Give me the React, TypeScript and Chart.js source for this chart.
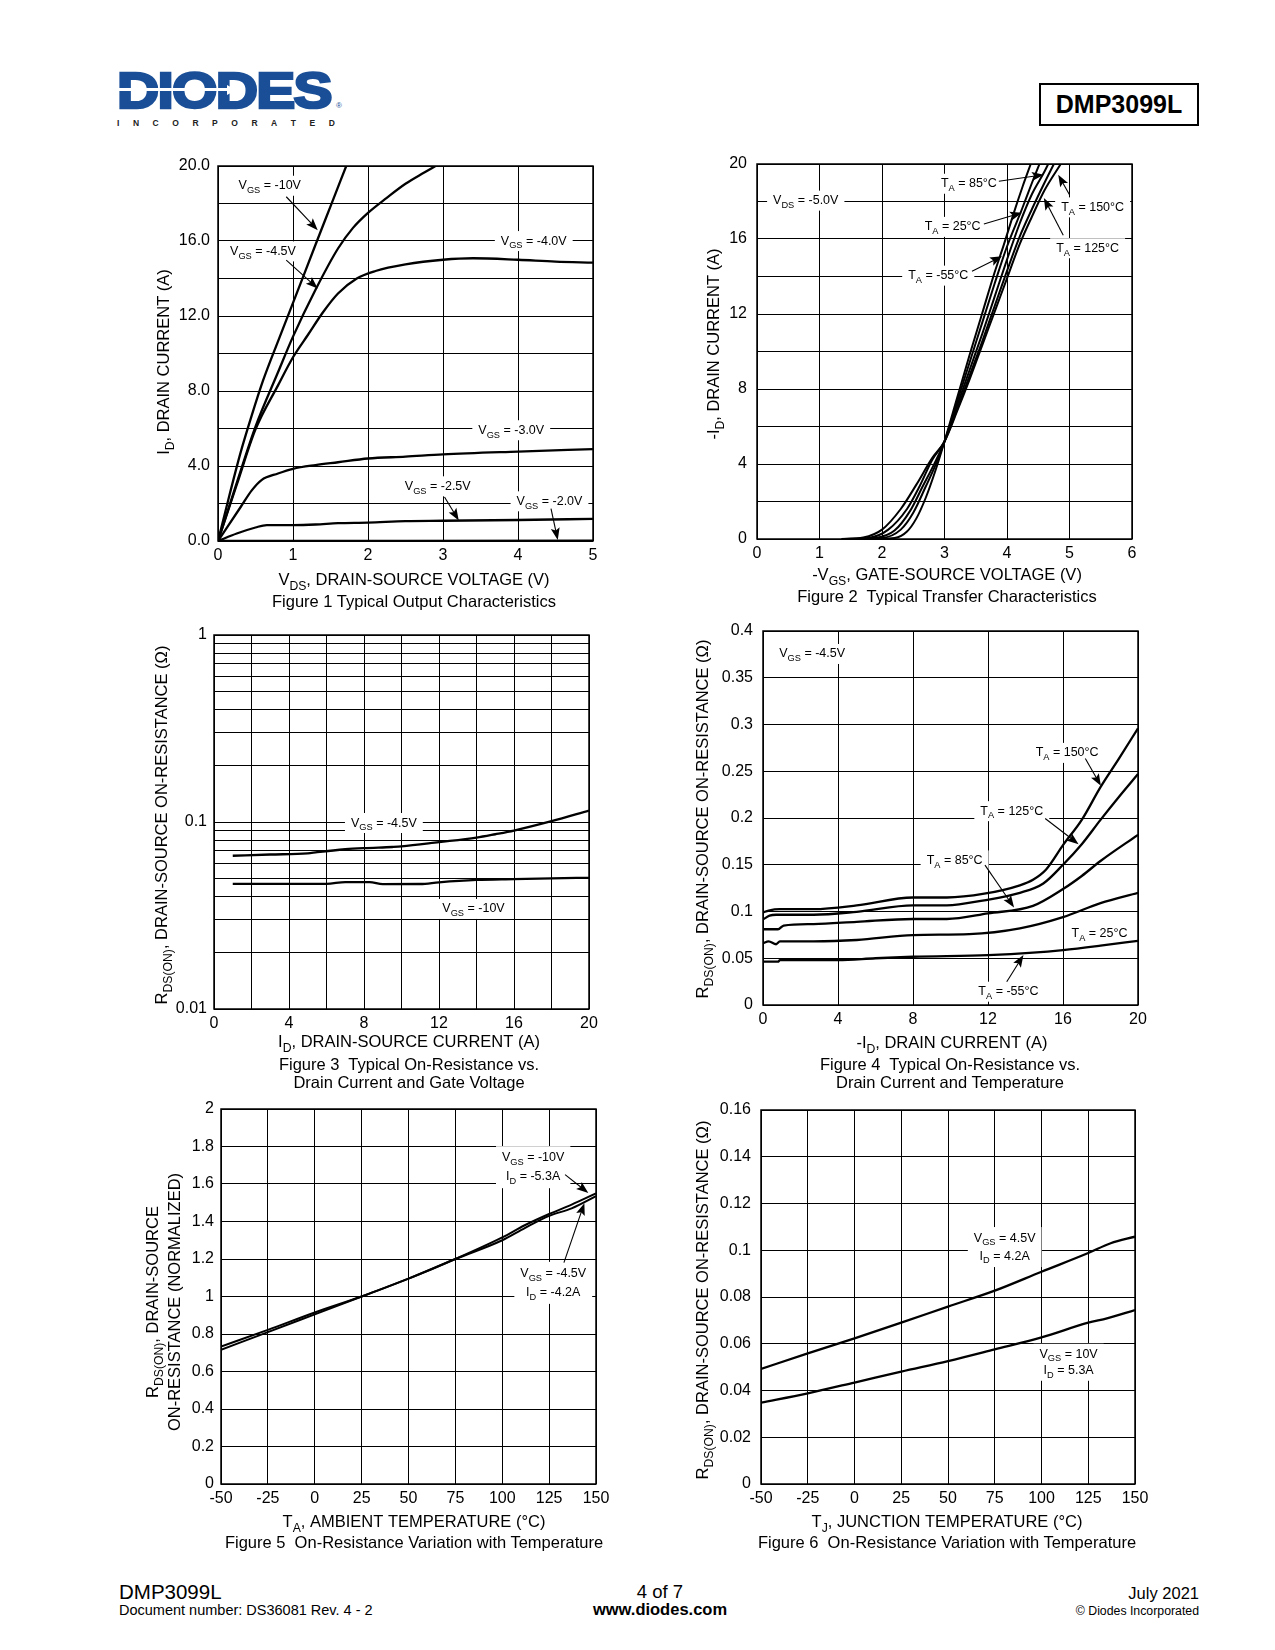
import React, { useEffect, useRef } from "react";
import { Chart, registerables } from "chart.js";
Chart.register(...registerables);

const FONT = '"Liberation Sans", Arial, Helvetica, sans-serif';
const TICK = 16;
const TITLE = 16.5;
const ANN = 12.5;

type Pt = [number, number];

// ---------------- Figure 1 : output characteristics ----------------
const fig1XTicks = [0, 1, 2, 3, 4, 5];
const fig1XLabels = ["0", "1", "2", "3", "4", "5"];
const fig1YTicks = [0, 2, 4, 6, 8, 10, 12, 14, 16, 18, 20];
const fig1YLabels = ["0.0", "", "4.0", "", "8.0", "", "12.0", "", "16.0", "", "20.0"];
const fig1Vgs10: Pt[] = [[0, 0], [0.15, 2.4], [0.3, 4.7], [0.45, 6.7], [0.6, 8.55], [0.8, 10.65], [1.0, 12.7], [1.3, 15.8], [1.5, 17.85], [1.71, 20]];
const fig1Vgs45: Pt[] = [[0, 0], [0.25, 3.1], [0.5, 6.1], [0.8, 9.0], [1.0, 10.9], [1.3, 13.4], [1.6, 15.6], [1.8, 16.7], [2.0, 17.5], [2.25, 18.3], [2.5, 19.05], [2.75, 19.65], [2.9, 20]];
const fig1Vgs40: Pt[] = [[0, 0], [0.25, 3.0], [0.5, 5.95], [0.8, 8.3], [1.0, 9.8], [1.2, 11.0], [1.4, 12.2], [1.6, 13.2], [1.85, 14.0], [2.1, 14.4], [2.5, 14.75], [3.0, 15.0], [3.4, 15.08], [4.0, 15.0], [4.5, 14.9], [5.0, 14.85]];
const fig1Vgs30: Pt[] = [[0, 0], [0.15, 0.9], [0.3, 1.8], [0.45, 2.7], [0.58, 3.25], [0.8, 3.6], [1.0, 3.85], [1.3, 4.05], [1.6, 4.2], [2.0, 4.4], [2.5, 4.5], [3.0, 4.62], [4.0, 4.77], [5.0, 4.9]];
const fig1Vgs25: Pt[] = [[0, 0], [0.25, 0.4], [0.5, 0.72], [0.65, 0.85], [1.0, 0.85], [1.3, 0.88], [1.6, 0.95], [2.0, 0.98], [2.5, 1.06], [3.0, 1.08], [4.0, 1.12], [5.0, 1.18]];
const fig1Vgs20: Pt[] = [[0, 0], [2.5, 0.01], [5.0, 0.02]];

// ---------------- Figure 2 : transfer characteristics ----------------
const fig2XTicks = [0, 1, 2, 3, 4, 5, 6];
const fig2XLabels = ["0", "1", "2", "3", "4", "5", "6"];
const fig2YTicks = [0, 2, 4, 6, 8, 10, 12, 14, 16, 18, 20];
const fig2YLabels = ["0", "", "4", "", "8", "", "12", "", "16", "", "20"];
const fig2Tm55: Pt[] = [[1.9, 0], [2.2, 0.05], [2.4, 0.4], [2.55, 1.1], [2.7, 2.2], [2.85, 3.6], [3.0, 5.2], [3.2, 7.5], [3.4, 9.8], [3.6, 12.0], [3.8, 14.2], [3.95, 15.7], [4.1, 17.3], [4.25, 18.8], [4.38, 20]];
const fig2T25: Pt[] = [[1.6, 0], [2.0, 0.05], [2.3, 0.5], [2.5, 1.4], [2.7, 2.8], [2.85, 3.9], [3.0, 5.2], [3.2, 7.3], [3.4, 9.4], [3.6, 11.5], [3.8, 13.6], [4.0, 15.6], [4.24, 17.6], [4.4, 19.0], [4.52, 20]];
const fig2T85: Pt[] = [[1.5, 0], [1.9, 0.06], [2.2, 0.45], [2.45, 1.5], [2.65, 2.8], [2.85, 4.1], [3.0, 5.2], [3.2, 7.1], [3.4, 9.0], [3.6, 10.9], [3.8, 12.9], [4.0, 14.9], [4.2, 16.8], [4.4, 18.4], [4.6, 19.6], [4.66, 20]];
const fig2T125: Pt[] = [[1.4, 0], [1.8, 0.07], [2.1, 0.5], [2.4, 1.6], [2.6, 2.8], [2.8, 4.2], [3.0, 5.2], [3.2, 6.9], [3.4, 8.7], [3.6, 10.5], [3.8, 12.4], [4.0, 14.3], [4.2, 16.1], [4.4, 17.6], [4.6, 19.0], [4.75, 20]];
const fig2T150: Pt[] = [[1.35, 0], [1.7, 0.08], [2.0, 0.5], [2.3, 1.6], [2.55, 2.9], [2.8, 4.3], [3.0, 5.2], [3.2, 6.8], [3.4, 8.5], [3.6, 10.3], [3.8, 12.1], [4.0, 13.9], [4.2, 15.7], [4.4, 17.2], [4.6, 18.6], [4.86, 20]];

// ---------------- Figure 3 : on-resistance vs drain current & gate voltage ----------------
const fig3XTicks = [0, 2, 4, 6, 8, 10, 12, 14, 16, 18, 20];
const fig3XLabels = ["0", "", "4", "", "8", "", "12", "", "16", "", "20"];
const fig3YTicks = [0.01, 0.02, 0.03, 0.04, 0.05, 0.06, 0.07, 0.08, 0.09, 0.1, 0.2, 0.3, 0.4, 0.5, 0.6, 0.7, 0.8, 0.9, 1];
const fig3YLabels = ["0.01", "", "", "", "", "", "", "", "", "0.1", "", "", "", "", "", "", "", "", "1"];
const fig3Vgs45: Pt[] = [[1, 0.066], [3, 0.067], [5, 0.068], [5.5, 0.069], [7, 0.0715], [8, 0.0725], [9.5, 0.0735], [10, 0.074], [12, 0.078], [14, 0.0825], [15, 0.086], [16, 0.09], [18, 0.101], [20, 0.115]];
const fig3Vgs10: Pt[] = [[1, 0.0467], [4, 0.0467], [6, 0.0467], [7, 0.0477], [8.3, 0.0477], [9, 0.0465], [11, 0.0466], [12, 0.0476], [14, 0.049], [16, 0.0495], [18, 0.05], [20, 0.0503]];

// ---------------- Figure 4 : on-resistance vs drain current & temperature ----------------
const fig4XTicks = [0, 4, 8, 12, 16, 20];
const fig4XLabels = ["0", "4", "8", "12", "16", "20"];
const fig4YTicks = [0, 0.05, 0.1, 0.15, 0.2, 0.25, 0.3, 0.35, 0.4];
const fig4YLabels = ["0", "0.05", "0.1", "0.15", "0.2", "0.25", "0.3", "0.35", "0.4"];
const fig4T150: Pt[] = [[0, 0.099], [0.3, 0.101], [0.9, 0.1025], [2.7, 0.1025], [5, 0.1065], [8, 0.115], [9.8, 0.115], [11.8, 0.119], [13.7, 0.128], [14.4, 0.134], [15.1, 0.145], [16, 0.171], [17, 0.198], [18, 0.233], [19, 0.264], [20, 0.296]];
const fig4T125: Pt[] = [[0, 0.0915], [0.35, 0.0955], [0.7, 0.0965], [2.7, 0.0965], [5, 0.0997], [8, 0.1065], [9.8, 0.1065], [11.8, 0.112], [13.7, 0.12], [14.95, 0.13], [16, 0.15], [17, 0.172], [18, 0.198], [19, 0.223], [20, 0.247]];
const fig4T85: Pt[] = [[0, 0.081], [0.8, 0.081], [1.1, 0.085], [2.7, 0.0866], [5, 0.089], [8, 0.092], [9.8, 0.092], [12, 0.098], [14.4, 0.106], [16, 0.124], [17, 0.138], [18, 0.154], [20, 0.182]];
const fig4T25: Pt[] = [[0, 0.066], [0.3, 0.068], [0.7, 0.065], [0.9, 0.068], [2.7, 0.068], [5, 0.0695], [8, 0.0748], [11, 0.0758], [13.7, 0.082], [16, 0.094], [18, 0.109], [20, 0.12]];
const fig4Tm55: Pt[] = [[0, 0.0463], [0.8, 0.0463], [0.9, 0.048], [4, 0.048], [6, 0.05], [8, 0.0516], [12, 0.0534], [14.4, 0.056], [16, 0.0588], [18, 0.0635], [20, 0.0687]];

// ---------------- Figure 5 : normalized on-resistance vs ambient temperature ----------------
const tempTicks = [-50, -25, 0, 25, 50, 75, 100, 125, 150];
const tempLabels = ["-50", "-25", "0", "25", "50", "75", "100", "125", "150"];
const fig5YTicks = [0, 0.2, 0.4, 0.6, 0.8, 1, 1.2, 1.4, 1.6, 1.8, 2];
const fig5YLabels = ["0", "0.2", "0.4", "0.6", "0.8", "1", "1.2", "1.4", "1.6", "1.8", "2"];
const fig5Vgs10: Pt[] = [[-50, 0.733], [-25, 0.822], [0, 0.915], [25, 1.0], [50, 1.095], [75, 1.2], [100, 1.315], [112, 1.38], [125, 1.44], [137, 1.49], [150, 1.55]];
const fig5Vgs45: Pt[] = [[-50, 0.716], [-25, 0.81], [0, 0.905], [25, 1.0], [50, 1.095], [75, 1.2], [100, 1.3], [112, 1.365], [125, 1.43], [137, 1.47], [150, 1.535]];

// ---------------- Figure 6 : on-resistance vs junction temperature ----------------
const fig6YTicks = [0, 0.02, 0.04, 0.06, 0.08, 0.1, 0.12, 0.14, 0.16];
const fig6YLabels = ["0", "0.02", "0.04", "0.06", "0.08", "0.1", "0.12", "0.14", "0.16"];
const fig6Vgs45: Pt[] = [[-50, 0.0492], [-25, 0.0559], [0, 0.0623], [25, 0.069], [50, 0.0759], [75, 0.0827], [100, 0.0908], [125, 0.0988], [137, 0.103], [150, 0.1058]];
const fig6Vgs10: Pt[] = [[-50, 0.0348], [-25, 0.0388], [0, 0.0434], [25, 0.0481], [50, 0.0526], [75, 0.0576], [100, 0.0627], [125, 0.069], [135, 0.0709], [150, 0.0744]];

// ---------------- helpers ----------------
type Part = [string, number];
function parseRich(s: string): Part[] {
  const out: Part[] = [];
  const re = /_\{([^}]*)\}/g;
  let last = 0;
  let m: RegExpExecArray | null;
  while ((m = re.exec(s))) {
    if (m.index > last) out.push([s.slice(last, m.index), 0]);
    out.push([m[1], 1]);
    last = re.lastIndex;
  }
  if (last < s.length) out.push([s.slice(last), 0]);
  return out;
}
function richWidth(ctx: CanvasRenderingContext2D, parts: Part[], size: number) {
  let w = 0;
  for (const [t, sub] of parts) {
    ctx.font = `${sub ? size * 0.74 : size}px ${FONT}`;
    w += ctx.measureText(t).width;
  }
  return w;
}
function drawRich(ctx: CanvasRenderingContext2D, parts: Part[], x: number, y: number, size: number, align: string) {
  const w = richWidth(ctx, parts, size);
  let cx = align === "center" ? x - w / 2 : x;
  ctx.textAlign = "left";
  ctx.textBaseline = "alphabetic";
  ctx.fillStyle = "#000";
  for (const [t, sub] of parts) {
    ctx.font = `${sub ? size * 0.74 : size}px ${FONT}`;
    ctx.fillText(t, cx, sub ? y + size * 0.3 : y);
    cx += ctx.measureText(t).width;
  }
}

interface Axis { type: string; min: number; max: number; ticks: number[]; labels: string[] }
interface Ann { text: string[]; x: number; y: number; lineH?: number; arrow?: number[] }
interface Spec {
  plot: number[];
  x: Axis;
  y: Axis;
  series: Pt[][];
  lw: number;
  anns: Ann[];
  xTitle: { text: string; cx: number; base: number };
  yTitle: { lines: { text: string; cx: number }[]; cy: number };
  padY: number;
}

const L = 100, T = 20, R = 30, B = 55;

function ChartBox({ spec }: { spec: Spec }) {
  const ref = useRef<HTMLCanvasElement>(null);
  const [px, py, pw, ph] = spec.plot;
  const cl = px - L, ct = py - T, cw = pw + L + R, ch = ph + T + B;
  useEffect(() => {
    const canvas = ref.current;
    if (!canvas) return;
    const decor = {
      id: "decor",
      beforeDatasetsDraw(chart: any) {
        const ctx: CanvasRenderingContext2D = chart.ctx;
        const xs = chart.scales.x, ys = chart.scales.y;
        ctx.save();
        for (const a of spec.anns) {
          const lines = a.text.map(parseRich);
          const lh = a.lineH ?? 18;
          const cx = xs.getPixelForValue(a.x), cy = ys.getPixelForValue(a.y);
          const w = Math.max(...lines.map((l) => richWidth(ctx, l, ANN))) + 12;
          const h = lines.length * lh + (lines.length > 1 ? 4 : 2);
          ctx.fillStyle = "#fff";
          ctx.fillRect(cx - w / 2, cy - h / 2 + 1, w, h);
          lines.forEach((l, i) => {
            const ly = cy + (i - (lines.length - 1) / 2) * lh + ANN * 0.36;
            drawRich(ctx, l, cx, ly, ANN, "center");
          });
        }
        ctx.restore();
      },
      afterDatasetsDraw(chart: any) {
        const ctx: CanvasRenderingContext2D = chart.ctx;
        const xs = chart.scales.x, ys = chart.scales.y;
        ctx.save();
        ctx.strokeStyle = "#000";
        ctx.fillStyle = "#000";
        for (const a of spec.anns) {
          if (!a.arrow) continue;
          const X1 = xs.getPixelForValue(a.arrow[0]), Y1 = ys.getPixelForValue(a.arrow[1]);
          const X2 = xs.getPixelForValue(a.arrow[2]), Y2 = ys.getPixelForValue(a.arrow[3]);
          const ang = Math.atan2(Y2 - Y1, X2 - X1);
          const len = 12, hw = 4.5;
          const c = Math.cos(ang), s = Math.sin(ang);
          ctx.lineWidth = 1.1;
          ctx.beginPath();
          ctx.moveTo(X1, Y1);
          ctx.lineTo(X2 - len * 0.6 * c, Y2 - len * 0.6 * s);
          ctx.stroke();
          ctx.beginPath();
          ctx.moveTo(X2, Y2);
          ctx.lineTo(X2 - len * c + hw * s, Y2 - len * s - hw * c);
          ctx.lineTo(X2 - len * 0.8 * c, Y2 - len * 0.8 * s);
          ctx.lineTo(X2 - len * c - hw * s, Y2 - len * s + hw * c);
          ctx.closePath();
          ctx.fill();
        }
        const ca = chart.chartArea;
        ctx.lineWidth = 1.5;
        ctx.strokeRect(ca.left, ca.top, ca.right - ca.left, ca.bottom - ca.top);
        ctx.restore();
      },
      afterDraw(chart: any) {
        const ctx: CanvasRenderingContext2D = chart.ctx;
        ctx.save();
        drawRich(ctx, parseRich(spec.xTitle.text), spec.xTitle.cx - cl, spec.xTitle.base - ct, TITLE, "center");
        for (const ln of spec.yTitle.lines) {
          ctx.save();
          ctx.translate(ln.cx - cl, spec.yTitle.cy - ct);
          ctx.rotate(-Math.PI / 2);
          drawRich(ctx, parseRich(ln.text), 0, TITLE * 0.358, TITLE, "center");
          ctx.restore();
        }
        ctx.restore();
      },
    };
    const axisOpts = (ax: Axis, isX: boolean) => ({
      type: ax.type,
      min: ax.min,
      max: ax.max,
      position: isX ? "bottom" : "left",
      afterBuildTicks: (s: any) => {
        s.ticks = ax.ticks.map((v) => ({ value: v }));
      },
      afterFit: (s: any) => {
        if (isX) s.height = B;
        else s.width = L;
      },
      ticks: {
        autoSkip: false,
        maxRotation: 0,
        minRotation: 0,
        padding: isX ? 5 : spec.padY,
        color: "#000",
        font: { family: FONT, size: TICK },
        callback: (_v: any, i: number) => ax.labels[i] ?? "",
      },
      grid: { color: "#000", lineWidth: 1, drawTicks: false },
      border: { display: false },
    });
    const chart = new Chart(canvas, {
      type: "line",
      data: {
        datasets: spec.series.map((s) => ({
          data: s.map(([x, y]) => ({ x, y })),
          borderColor: "#000",
          borderWidth: spec.lw,
          pointRadius: 0,
          fill: false,
          cubicInterpolationMode: "monotone",
        })),
      } as any,
      options: {
        responsive: false,
        animation: false,
        devicePixelRatio: 1,
        parsing: false,
        layout: { padding: { top: T, right: R, left: 0, bottom: 0 } },
        plugins: { legend: { display: false }, tooltip: { enabled: false } },
        scales: { x: axisOpts(spec.x, true), y: axisOpts(spec.y, false) } as any,
      } as any,
      plugins: [decor],
    });
    return () => chart.destroy();
  }, []);
  return <canvas ref={ref} width={cw} height={ch} style={{ position: "absolute", left: cl, top: ct, width: cw, height: ch }} />;
}

function Txt({ x, y, size, text, align = "left", bold = false }: any) {
  const top = y - size * 0.8465;
  const style: any = { position: "absolute", top, fontSize: size, lineHeight: `${size}px`, fontWeight: bold ? 700 : 400, whiteSpace: "pre", color: "#000" };
  if (align === "center") { style.left = x - 300; style.width = 600; style.textAlign = "center"; }
  else if (align === "right") { style.left = x - 600; style.width = 600; style.textAlign = "right"; }
  else { style.left = x; }
  return <div style={style}>{text}</div>;
}

const specs: Spec[] = [
  {
    plot: [218, 166, 375, 375],
    x: { type: "linear", min: 0, max: 5, ticks: fig1XTicks, labels: fig1XLabels },
    y: { type: "linear", min: 0, max: 20, ticks: fig1YTicks, labels: fig1YLabels },
    series: [fig1Vgs10, fig1Vgs45, fig1Vgs40, fig1Vgs30, fig1Vgs25, fig1Vgs20],
    lw: 2.3,
    anns: [
      { text: ["V_{GS} = -10V"], x: 0.69, y: 19.0, arrow: [0.91, 18.36, 1.33, 16.58] },
      { text: ["V_{GS} = -4.5V"], x: 0.6, y: 15.5, arrow: [0.91, 14.98, 1.33, 13.47] },
      { text: ["V_{GS} = -4.0V"], x: 4.21, y: 16.05 },
      { text: ["V_{GS} = -3.0V"], x: 3.91, y: 5.96 },
      { text: ["V_{GS} = -2.5V"], x: 2.93, y: 2.97, arrow: [3.02, 2.35, 3.21, 1.1] },
      { text: ["V_{GS} = -2.0V"], x: 4.42, y: 2.17, arrow: [4.44, 1.73, 4.53, 0.06] },
    ],
    xTitle: { text: "V_{DS}, DRAIN-SOURCE VOLTAGE (V)", cx: 414, base: 585 },
    yTitle: { lines: [{ text: "I_{D}, DRAIN CURRENT (A)", cx: 163 }], cy: 362 },
    padY: 8,
  },
  {
    plot: [757, 164, 375, 375],
    x: { type: "linear", min: 0, max: 6, ticks: fig2XTicks, labels: fig2XLabels },
    y: { type: "linear", min: 0, max: 20, ticks: fig2YTicks, labels: fig2YLabels },
    series: [fig2Tm55, fig2T25, fig2T85, fig2T125, fig2T150],
    lw: 2.0,
    anns: [
      { text: ["V_{DS} = -5.0V"], x: 0.78, y: 18.1 },
      { text: ["T_{A} = 85°C"], x: 3.39, y: 19.0, arrow: [3.87, 19.08, 4.59, 19.43] },
      { text: ["T_{A} = 25°C"], x: 3.13, y: 16.7, arrow: [3.63, 16.8, 4.24, 17.4] },
      { text: ["T_{A} = -55°C"], x: 2.9, y: 14.1, arrow: [3.44, 14.28, 3.92, 15.08] },
      { text: ["T_{A} = 150°C"], x: 5.37, y: 17.74, arrow: [5.0, 18.36, 4.82, 19.43] },
      { text: ["T_{A} = 125°C"], x: 5.29, y: 15.56, arrow: [4.9, 16.2, 4.59, 18.19] },
    ],
    xTitle: { text: "-V_{GS}, GATE-SOURCE VOLTAGE (V)", cx: 947, base: 580 },
    yTitle: { lines: [{ text: "-I_{D}, DRAIN CURRENT (A)", cx: 713 }], cy: 344 },
    padY: 10,
  },
  {
    plot: [214, 635, 375, 374],
    x: { type: "linear", min: 0, max: 20, ticks: fig3XTicks, labels: fig3XLabels },
    y: { type: "logarithmic", min: 0.01, max: 1, ticks: fig3YTicks, labels: fig3YLabels },
    series: [fig3Vgs45, fig3Vgs10],
    lw: 2.3,
    anns: [
      { text: ["V_{GS} = -4.5V"], x: 9.06, y: 0.1 },
      { text: ["V_{GS} = -10V"], x: 13.84, y: 0.0347 },
    ],
    xTitle: { text: "I_{D}, DRAIN-SOURCE CURRENT (A)", cx: 409, base: 1047 },
    yTitle: { lines: [{ text: "R_{DS(ON)}, DRAIN-SOURCE ON-RESISTANCE (Ω)", cx: 161 }], cy: 825 },
    padY: 7,
  },
  {
    plot: [763, 631, 375, 374],
    x: { type: "linear", min: 0, max: 20, ticks: fig4XTicks, labels: fig4XLabels },
    y: { type: "linear", min: 0, max: 0.4, ticks: fig4YTicks, labels: fig4YLabels },
    series: [fig4T150, fig4T125, fig4T85, fig4T25, fig4Tm55],
    lw: 2.3,
    anns: [
      { text: ["V_{GS} = -4.5V"], x: 2.62, y: 0.3765 },
      { text: ["T_{A} = 150°C"], x: 16.22, y: 0.2707, arrow: [17.19, 0.2636, 18.02, 0.2344] },
      { text: ["T_{A} = 125°C"], x: 13.27, y: 0.2084, arrow: [15.05, 0.1995, 16.83, 0.172] },
      { text: ["T_{A} = 85°C"], x: 10.22, y: 0.1557, arrow: [11.84, 0.1496, 13.39, 0.1044] },
      { text: ["T_{A} = 25°C"], x: 17.95, y: 0.0776 },
      { text: ["T_{A} = -55°C"], x: 13.09, y: 0.0153, arrow: [13.0, 0.0249, 13.89, 0.0534] },
    ],
    xTitle: { text: "-I_{D}, DRAIN CURRENT (A)", cx: 952, base: 1048 },
    yTitle: { lines: [{ text: "R_{DS(ON)}, DRAIN-SOURCE ON-RESISTANCE (Ω)", cx: 702 }], cy: 819 },
    padY: 10,
  },
  {
    plot: [221, 1109, 375, 375],
    x: { type: "linear", min: -50, max: 150, ticks: tempTicks, labels: tempLabels },
    y: { type: "linear", min: 0, max: 2, ticks: fig5YTicks, labels: fig5YLabels },
    series: [fig5Vgs10, fig5Vgs45],
    lw: 2.0,
    anns: [
      { text: ["V_{GS} = -10V", "I_{D} = -5.3A"], x: 116.5, y: 1.695, lineH: 19, arrow: [133.5, 1.65, 145.9, 1.552] },
      { text: ["V_{GS} = -4.5V", "I_{D} = -4.2A"], x: 127.2, y: 1.078, lineH: 19, arrow: [132.9, 1.181, 143.8, 1.498] },
    ],
    xTitle: { text: "T_{A}, AMBIENT TEMPERATURE (°C)", cx: 414, base: 1527 },
    yTitle: {
      lines: [
        { text: "R_{DS(ON)}, DRAIN-SOURCE", cx: 152 },
        { text: "ON-RESISTANCE (NORMALIZED)", cx: 174 },
      ],
      cy: 1302,
    },
    padY: 7,
  },
  {
    plot: [761, 1110, 374, 374],
    x: { type: "linear", min: -50, max: 150, ticks: tempTicks, labels: tempLabels },
    y: { type: "linear", min: 0, max: 0.16, ticks: fig6YTicks, labels: fig6YLabels },
    series: [fig6Vgs45, fig6Vgs10],
    lw: 2.3,
    anns: [
      { text: ["V_{GS} = 4.5V", "I_{D} = 4.2A"], x: 80.3, y: 0.1018, lineH: 18 },
      { text: ["V_{GS} = 10V", "I_{D} = 5.3A"], x: 114.5, y: 0.0525, lineH: 16.5 },
    ],
    xTitle: { text: "T_{J}, JUNCTION TEMPERATURE (°C)", cx: 947, base: 1527 },
    yTitle: { lines: [{ text: "R_{DS(ON)}, DRAIN-SOURCE ON-RESISTANCE (Ω)", cx: 702 }], cy: 1300 },
    padY: 10,
  },
];

const incLetters = "INCORPORATED".split("");
const BLUE = "#1A4F97";

export default function App() {
  return (
    <div style={{ position: "absolute", left: 0, top: 0, width: 1275, height: 1650, background: "#fff", fontFamily: FONT, color: "#000", overflow: "hidden" }}>
      {/* logo */}
      <div style={{ position: "absolute", left: 117, top: 65.7, height: 50, whiteSpace: "nowrap", fontSize: 50, lineHeight: "50px", fontWeight: 700, color: BLUE, WebkitTextStroke: `2.6px ${BLUE}`, transform: "scaleX(1.17)", transformOrigin: "left top", letterSpacing: -1.5 }}>DIODES</div>
      <div style={{ position: "absolute", left: 114, top: 88, width: 114, height: 3, background: "#fff" }} />
      <div style={{ position: "absolute", left: 227, top: 84.5, width: 0, height: 0, borderLeft: "9px solid #fff", borderTop: "5px solid transparent", borderBottom: "5px solid transparent" }} />
      <div style={{ position: "absolute", left: 336, top: 102, fontSize: 8, lineHeight: "8px", color: BLUE }}>®</div>
      <div style={{ position: "absolute", left: 117, top: 118.5, width: 218, display: "flex", justifyContent: "space-between", fontSize: 8.5, lineHeight: "9px", fontWeight: 700, color: "#222" }}>
        {incLetters.map((c, i) => (
          <span key={i}>{c}</span>
        ))}
      </div>
      <div style={{ position: "absolute", left: 1039, top: 83, width: 160, height: 43, border: "2px solid #000", boxSizing: "border-box", display: "flex", alignItems: "center", justifyContent: "center", fontSize: 25, fontWeight: 700 }}>DMP3099L</div>

      {specs.map((s, i) => (
        <ChartBox key={i} spec={s} />
      ))}

      <Txt x={414} y={607} size={16.5} align="center" text="Figure 1 Typical Output Characteristics" />
      <Txt x={947} y={602} size={16.5} align="center" text="Figure 2  Typical Transfer Characteristics" />
      <Txt x={409} y={1070} size={16.5} align="center" text="Figure 3  Typical On-Resistance vs." />
      <Txt x={409} y={1088} size={16.5} align="center" text="Drain Current and Gate Voltage" />
      <Txt x={950} y={1070} size={16.5} align="center" text="Figure 4  Typical On-Resistance vs." />
      <Txt x={950} y={1088} size={16.5} align="center" text="Drain Current and Temperature" />
      <Txt x={414} y={1548} size={16.5} align="center" text="Figure 5  On-Resistance Variation with Temperature" />
      <Txt x={947} y={1548} size={16.5} align="center" text="Figure 6  On-Resistance Variation with Temperature" />

      <Txt x={119} y={1599} size={20.5} text="DMP3099L" />
      <Txt x={119} y={1615} size={14.5} text="Document number: DS36081 Rev. 4 - 2" />
      <Txt x={660} y={1599} size={18.5} align="center" text="4 of 7" />
      <Txt x={660} y={1615} size={16.5} align="center" bold text="www.diodes.com" />
      <Txt x={1199} y={1599} size={16.5} align="right" text="July 2021" />
      <Txt x={1199} y={1615} size={12.3} align="right" text="© Diodes Incorporated" />
    </div>
  );
}
